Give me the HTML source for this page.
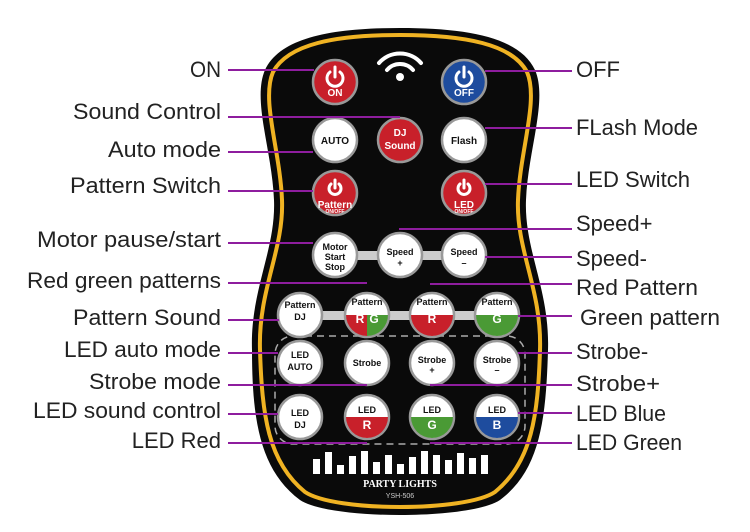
<!DOCTYPE html>
<html><head><style>body{margin:0;background:#fff}svg{display:block}</style></head><body>
<svg width="750" height="532" viewBox="0 0 750 532" xmlns="http://www.w3.org/2000/svg" font-family="Liberation Sans, sans-serif">
<defs>
<clipPath id="c1"><circle cx="0" cy="0" r="21"/></clipPath>
</defs>
<path d="M400,28 C470,28 520,38 535,70 C548,100 528,150 526,200 C524,250 550,290 548,350 C546,420 540,470 500,500 C470,520 330,520 300,500 C260,470 252,420 252,350 C250,290 276,250 274,200 C272,150 252,100 265,70 C280,38 330,28 400,28 Z" fill="#0a0a0a"/>
<path d="M400,35 C465,35 512,44 527,72 C539,100 520,150 518,200 C516,250 542,290 540,350 C538,415 532,462 495,492 C465,512 335,512 305,492 C268,462 262,415 260,350 C258,290 284,250 282,200 C280,150 261,100 273,72 C288,44 335,35 400,35 Z" fill="none" stroke="#f0b323" stroke-width="4"/>
<g fill="none" stroke="#fff" stroke-width="4" stroke-linecap="round">
<path d="M379,63 A28,28 0 0 1 421,63"/><path d="M387,70 A17,17 0 0 1 413,70"/>
</g>
<circle cx="400" cy="77" r="4" fill="#fff"/>
<rect x="335" y="251" width="130" height="9" fill="#ccc"/>
<rect x="300" y="311" width="197" height="9" fill="#ccc"/>
<rect x="275" y="336" width="250" height="108" rx="18" fill="none" stroke="#aaa" stroke-width="1.5" stroke-dasharray="7,5"/>
<g stroke="#999" stroke-width="2.5">
<circle cx="335" cy="82" r="22" fill="#c8202a"/><circle cx="464" cy="82" r="22" fill="#1e4c9e"/>
<circle cx="335" cy="140" r="22" fill="#fff"/><circle cx="400" cy="140" r="22" fill="#c8202a"/><circle cx="464" cy="140" r="22" fill="#fff"/>
<circle cx="335" cy="193" r="22" fill="#c8202a"/><circle cx="464" cy="193" r="22" fill="#c8202a"/>
<circle cx="335" cy="255" r="22" fill="#fff"/><circle cx="400" cy="255" r="22" fill="#fff"/><circle cx="464" cy="255" r="22" fill="#fff"/>
<circle cx="300" cy="315" r="22" fill="#fff"/><circle cx="367" cy="315" r="22" fill="#fff"/><circle cx="432" cy="315" r="22" fill="#fff"/><circle cx="497" cy="315" r="22" fill="#fff"/>
<circle cx="300" cy="363" r="22" fill="#fff"/><circle cx="367" cy="363" r="22" fill="#fff"/><circle cx="432" cy="363" r="22" fill="#fff"/><circle cx="497" cy="363" r="22" fill="#fff"/>
<circle cx="300" cy="417" r="22" fill="#fff"/><circle cx="367" cy="417" r="22" fill="#fff"/><circle cx="432" cy="417" r="22" fill="#fff"/><circle cx="497" cy="417" r="22" fill="#fff"/>
</g>
<g>
<g transform="translate(367,315)" clip-path="url(#c1)"><rect x="-21" y="0" width="21" height="21" fill="#c8202a"/><rect x="0" y="0" width="21" height="21" fill="#4a9a35"/></g>
<g transform="translate(432,315)" clip-path="url(#c1)"><rect x="-21" y="0" width="42" height="21" fill="#c8202a"/></g>
<g transform="translate(497,315)" clip-path="url(#c1)"><rect x="-21" y="0" width="42" height="21" fill="#4a9a35"/></g>
<g transform="translate(367,417)" clip-path="url(#c1)"><rect x="-21" y="0" width="42" height="21" fill="#c8202a"/></g>
<g transform="translate(432,417)" clip-path="url(#c1)"><rect x="-21" y="0" width="42" height="21" fill="#4a9a35"/></g>
<g transform="translate(497,417)" clip-path="url(#c1)"><rect x="-21" y="0" width="42" height="21" fill="#1e4c9e"/></g>
</g>
<g fill="none" stroke="#fff" stroke-width="3" stroke-linecap="round">
<path d="M330,72 A8,8 0 1 0 340,72"/><line x1="335" y1="67" x2="335" y2="77"/>
<path d="M459,72 A8,8 0 1 0 469,72"/><line x1="464" y1="67" x2="464" y2="77"/>
<path d="M331,184 A6,6 0 1 0 339,184"/><line x1="335" y1="180" x2="335" y2="188"/>
<path d="M460,184 A6,6 0 1 0 468,184"/><line x1="464" y1="180" x2="464" y2="188"/>
</g>
<g font-weight="bold" text-anchor="middle" font-size="10">
<text x="335" y="96" fill="#fff">ON</text><text x="464" y="96" fill="#fff">OFF</text>
<text x="335" y="144" fill="#111">AUTO</text>
<text x="400" y="136" fill="#fff">DJ</text><text x="400" y="149" fill="#fff">Sound</text>
<text x="464" y="144" fill="#111">Flash</text>
<text x="335" y="208" fill="#fff">Pattern</text><text x="335" y="213" fill="#fff" font-size="5">ON/OFF</text>
<text x="464" y="208" fill="#fff">LED</text><text x="464" y="213" fill="#fff" font-size="5">ON/OFF</text>
<g font-size="9" fill="#111">
<text x="335" y="250">Motor</text><text x="335" y="260">Start</text><text x="335" y="270">Stop</text>
<text x="400" y="255">Speed</text><text x="400" y="266">+</text>
<text x="464" y="255">Speed</text><text x="464" y="266">–</text>
<text x="300" y="308">Pattern</text><text x="300" y="320">DJ</text>
<text x="367" y="305">Pattern</text><text x="432" y="305">Pattern</text><text x="497" y="305">Pattern</text>
<text x="300" y="358">LED</text><text x="300" y="370">AUTO</text>
<text x="367" y="366">Strobe</text>
<text x="432" y="363">Strobe</text><text x="432" y="373">+</text>
<text x="497" y="363">Strobe</text><text x="497" y="373">–</text>
<text x="300" y="416">LED</text><text x="300" y="428">DJ</text>
<text x="367" y="413">LED</text><text x="432" y="413">LED</text><text x="497" y="413">LED</text>
</g>
<g font-size="12" fill="#fff">
<text x="360" y="323">R</text><text x="374" y="323">G</text>
<text x="432" y="323">R</text><text x="497" y="323">G</text>
<text x="367" y="429">R</text><text x="432" y="429">G</text><text x="497" y="429">B</text>
</g>
</g>
<g fill="#fff">
<rect x="313" y="459" width="7" height="15"/><rect x="325" y="452" width="7" height="22"/><rect x="337" y="465" width="7" height="9"/><rect x="349" y="456" width="7" height="18"/><rect x="361" y="451" width="7" height="23"/><rect x="373" y="462" width="7" height="12"/><rect x="385" y="455" width="7" height="19"/><rect x="397" y="464" width="7" height="10"/><rect x="409" y="457" width="7" height="17"/><rect x="421" y="451" width="7" height="23"/><rect x="433" y="455" width="7" height="19"/><rect x="445" y="460" width="7" height="14"/><rect x="457" y="453" width="7" height="21"/><rect x="469" y="458" width="7" height="16"/><rect x="481" y="455" width="7" height="19"/>
</g>
<text x="400" y="487" text-anchor="middle" fill="#fff" font-family="Liberation Serif, serif" font-weight="bold" font-size="10">PARTY LIGHTS</text>
<text x="400" y="498" text-anchor="middle" fill="#ccc" font-size="7">YSH-506</text>
<g stroke="#8e1d9e" stroke-width="2">
<line x1="228" y1="70" x2="314" y2="70"/>
<line x1="228" y1="117" x2="400" y2="117"/>
<line x1="228" y1="152" x2="313" y2="152"/>
<line x1="228" y1="191" x2="313" y2="191"/>
<line x1="228" y1="243" x2="313" y2="243"/>
<line x1="228" y1="283" x2="367" y2="283"/>
<line x1="228" y1="320" x2="279" y2="320"/>
<line x1="228" y1="353" x2="278" y2="353"/>
<line x1="228" y1="385" x2="367" y2="385"/>
<line x1="228" y1="414" x2="278" y2="414"/>
<line x1="228" y1="443" x2="367" y2="443"/>
<line x1="485" y1="71" x2="572" y2="71"/>
<line x1="485" y1="128" x2="572" y2="128"/>
<line x1="485" y1="184" x2="572" y2="184"/>
<line x1="399" y1="229" x2="572" y2="229"/>
<line x1="485" y1="257" x2="572" y2="257"/>
<line x1="430" y1="284" x2="572" y2="284"/>
<line x1="518" y1="316" x2="572" y2="316"/>
<line x1="518" y1="353" x2="572" y2="353"/>
<line x1="430" y1="385" x2="572" y2="385"/>
<line x1="518" y1="413" x2="572" y2="413"/>
<line x1="430" y1="443" x2="572" y2="443"/>
</g>
<g font-size="22" fill="#222">
<text x="190" y="77" textLength="31" lengthAdjust="spacingAndGlyphs">ON</text>
<text x="73" y="119" textLength="148" lengthAdjust="spacingAndGlyphs">Sound Control</text>
<text x="108" y="157" textLength="113" lengthAdjust="spacingAndGlyphs">Auto mode</text>
<text x="70" y="193" textLength="151" lengthAdjust="spacingAndGlyphs">Pattern Switch</text>
<text x="37" y="247" textLength="184" lengthAdjust="spacingAndGlyphs">Motor pause/start</text>
<text x="27" y="288" textLength="194" lengthAdjust="spacingAndGlyphs">Red green patterns</text>
<text x="73" y="325" textLength="148" lengthAdjust="spacingAndGlyphs">Pattern Sound</text>
<text x="64" y="357" textLength="157" lengthAdjust="spacingAndGlyphs">LED auto mode</text>
<text x="89" y="389" textLength="132" lengthAdjust="spacingAndGlyphs">Strobe mode</text>
<text x="33" y="418" textLength="188" lengthAdjust="spacingAndGlyphs">LED sound control</text>
<text x="221" y="448" text-anchor="end">LED Red</text>
<text x="576" y="77">OFF</text>
<text x="576" y="135" textLength="122" lengthAdjust="spacingAndGlyphs">FLash Mode</text>
<text x="576" y="187" textLength="114" lengthAdjust="spacingAndGlyphs">LED Switch</text>
<text x="576" y="231">Speed+</text>
<text x="576" y="266">Speed-</text>
<text x="576" y="295" textLength="122" lengthAdjust="spacingAndGlyphs">Red Pattern</text>
<text x="580" y="325" textLength="140" lengthAdjust="spacingAndGlyphs">Green pattern</text>
<text x="576" y="359">Strobe-</text>
<text x="576" y="391" textLength="84" lengthAdjust="spacingAndGlyphs">Strobe+</text>
<text x="576" y="421" textLength="90" lengthAdjust="spacingAndGlyphs">LED Blue</text>
<text x="576" y="450" textLength="106" lengthAdjust="spacingAndGlyphs">LED Green</text>
</g>
</svg>
</body></html>
